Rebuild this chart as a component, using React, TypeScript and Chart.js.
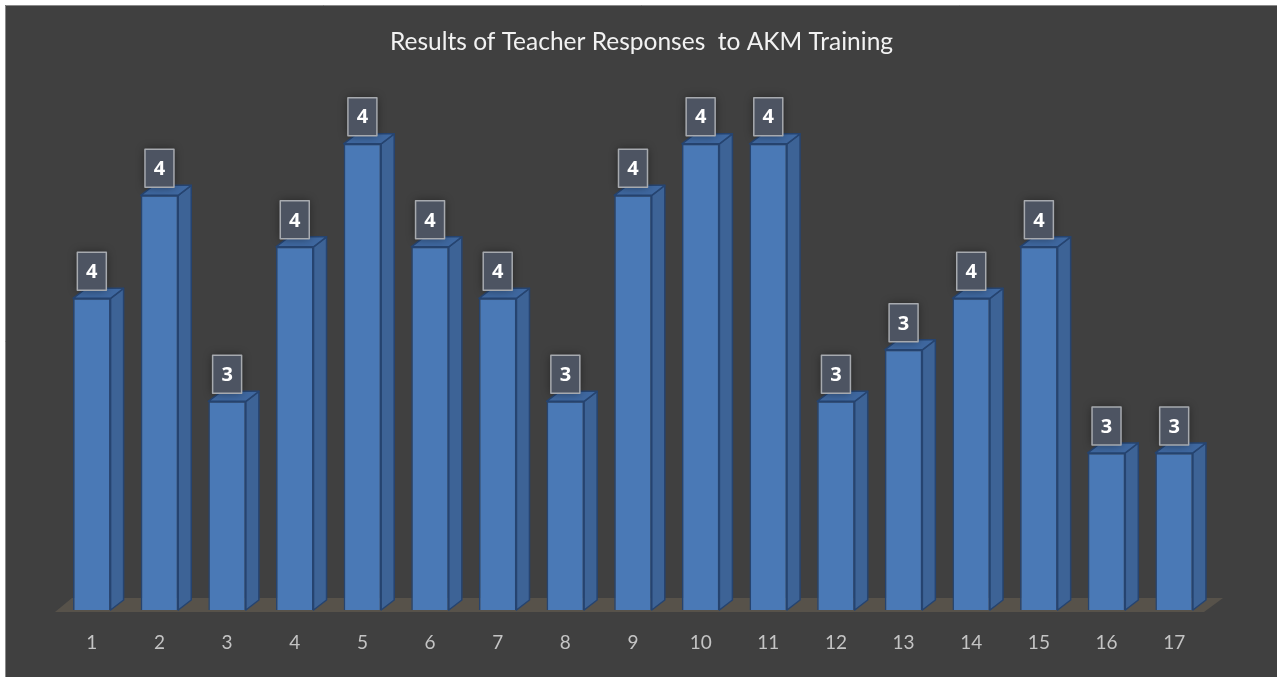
import React, { useEffect, useRef } from "react";
import { Chart, registerables } from "chart.js";

Chart.register(...registerables);

const TITLE = "Results of Teacher Responses  to AKM Training";
const CATEGORIES = ["1", "2", "3", "4", "5", "6", "7", "8", "9", "10", "11", "12", "13", "14", "15", "16", "17"];
const SCORES = [3.5, 3.7, 3.3, 3.6, 3.8, 3.6, 3.5, 3.3, 3.7, 3.8, 3.8, 3.3, 3.4, 3.5, 3.6, 3.2, 3.2];
const Y_MIN = 2.895;
const Y_MAX = 3.885;

const DEPTH_X = 13;
const DEPTH_Y = 10;

const backgroundPlugin = {
  id: "bg",
  beforeDraw(chart: any) {
    const { ctx, width, height } = chart;
    ctx.save();
    ctx.fillStyle = "#ffffff";
    ctx.fillRect(0, 0, width, height);
    ctx.fillStyle = "#404040";
    ctx.fillRect(5, 5, width, height);
    ctx.strokeStyle = "#8a8a8a";
    ctx.lineWidth = 1;
    ctx.beginPath();
    ctx.moveTo(5.5, height);
    ctx.lineTo(5.5, 5.5);
    ctx.lineTo(width, 5.5);
    ctx.stroke();
    // title
    ctx.fillStyle = "#f2f2f2";
    ctx.font = "24.5px Lato";
    ctx.textAlign = "center";
    ctx.textBaseline = "alphabetic";
    ctx.fillText(TITLE, 641.5, 50);
    ctx.restore();
  },
  beforeDatasetsDraw(chart: any) {
    const { ctx, chartArea } = chart;
    const base = chart.scales.y.getPixelForValue(Y_MIN);
    const l = chartArea.left - 3;
    const r = chartArea.right - 4;
    const fy = base + 2;
    ctx.save();
    ctx.fillStyle = "#57524a";
    ctx.beginPath();
    ctx.moveTo(l, fy);
    ctx.lineTo(r, fy);
    ctx.lineTo(r + 19, fy - 14);
    ctx.lineTo(l + 17, fy - 14);
    ctx.closePath();
    ctx.fill();
    ctx.restore();
  },
};

const bar3dPlugin = {
  id: "bar3d",
  afterDatasetsDraw(chart: any) {
    const { ctx } = chart;
    const meta = chart.getDatasetMeta(0);
    const base = chart.scales.y.getPixelForValue(Y_MIN);
    ctx.save();
    meta.data.forEach((el: any, i: number) => {
      const { x, y, width } = el.getProps(["x", "y", "width"], true);
      const left = x - width / 2;
      const right = x + width / 2;
      ctx.lineJoin = "round";
      ctx.lineWidth = 1.5;
      ctx.strokeStyle = "#264470";
      // side face
      ctx.fillStyle = "#3d6396";
      ctx.beginPath();
      ctx.moveTo(right, y);
      ctx.lineTo(right + DEPTH_X, y - DEPTH_Y);
      ctx.lineTo(right + DEPTH_X, base - DEPTH_Y);
      ctx.lineTo(right, base);
      ctx.closePath();
      ctx.fill();
      ctx.stroke();
      // top face
      ctx.fillStyle = "#3f68a0";
      ctx.beginPath();
      ctx.moveTo(left, y);
      ctx.lineTo(left + DEPTH_X, y - DEPTH_Y);
      ctx.lineTo(right + DEPTH_X, y - DEPTH_Y);
      ctx.lineTo(right, y);
      ctx.closePath();
      ctx.fill();
      ctx.stroke();

      // data label
      const label = String(Math.round(SCORES[i]));
      const bw = 29;
      const bh = 38;
      const bx = x - bw / 2;
      const by = y - 8 - bh;
      ctx.save();
      ctx.shadowColor = "rgba(0,0,0,0.45)";
      ctx.shadowBlur = 10;
      ctx.fillStyle = "#4d5462";
      ctx.fillRect(bx, by, bw, bh);
      ctx.restore();
      ctx.strokeStyle = "#a7aaaf";
      ctx.lineWidth = 1.5;
      ctx.strokeRect(bx, by, bw, bh);
      ctx.fillStyle = "#ffffff";
      ctx.font = "bold 20px 'Open Sans'";
      ctx.textAlign = "center";
      ctx.textBaseline = "middle";
      ctx.fillText(label, x, by + bh / 2 + 1);
    });
    ctx.restore();
  },
};

export default function App() {
  const ref = useRef<HTMLCanvasElement | null>(null);

  useEffect(() => {
    if (!ref.current) return;
    const chart = new Chart(ref.current, {
      type: "bar",
      data: {
        labels: CATEGORIES,
        datasets: [
          {
            label: "Score",
            data: SCORES,
            base: Y_MIN,
            backgroundColor: "#4a79b6",
            borderColor: "#264470",
            borderWidth: 1.5,
            categoryPercentage: 1,
            barPercentage: 0.555,
          },
        ],
      },
      options: {
        animation: false,
        responsive: true,
        maintainAspectRatio: false,
        layout: { padding: { left: 58, right: 69, top: 100, bottom: 0 } },
        plugins: {
          legend: { display: false },
          title: { display: false },
          tooltip: { enabled: false },
        },
        scales: {
          x: {
            grid: { display: false, drawTicks: false },
            border: { display: false },
            ticks: {
              color: "#c4c4c4",
              font: { family: "Lato", size: 19 },
              padding: 21,
            },
            afterFit: (scale: any) => {
              scale.height = 67;
            },
          },
          y: {
            display: false,
            min: Y_MIN,
            max: Y_MAX,
          },
        },
      },
      plugins: [backgroundPlugin, bar3dPlugin],
    });
    return () => chart.destroy();
  }, []);

  return (
    <div style={{ position: "fixed", left: 0, top: 0, width: "1277px", height: "677px" }}>
      <canvas ref={ref} />
    </div>
  );
}
